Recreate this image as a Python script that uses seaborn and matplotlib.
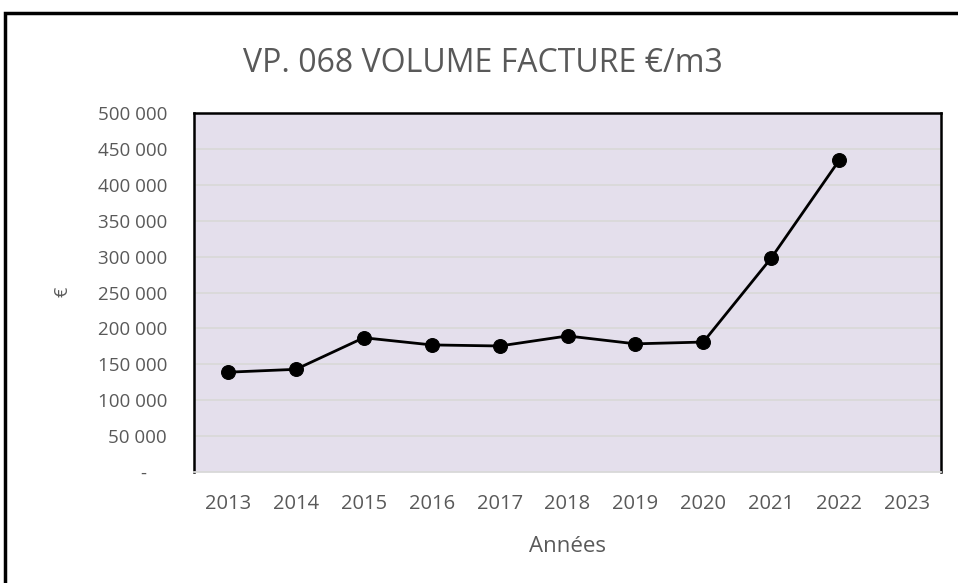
import numpy as np
import pandas as pd
import matplotlib
matplotlib.use("Agg")
import matplotlib.pyplot as plt
import seaborn as sns
from matplotlib.patches import Rectangle
from matplotlib.ticker import FuncFormatter, MultipleLocator

# Data
years = [2013, 2014, 2015, 2016, 2017, 2018, 2019, 2020, 2021, 2022]
all_years = list(range(2013, 2024))
volume_eur = [139000, 143000, 187000, 177000, 175500, 189500, 178500, 181000, 298000, 434000]

title = "VP. 068 VOLUME FACTURE €/m3"
xlabel = "Années"
ylabel = "€"

sns.set_style("white")
plt.rcParams["font.family"] = ["Open Sans", "DejaVu Sans"]

text_col = "#595959"
df = pd.DataFrame({"year": years, "value": volume_eur})

fig = plt.figure(figsize=(9.58, 5.83), dpi=100)
ax = fig.add_axes([194 / 958, 1 - 472 / 583, (941 - 194) / 958, (472 - 113) / 583])
ax.set_facecolor("#E4DFEC")

sns.lineplot(data=df, x="year", y="value", ax=ax, color="black", linewidth=2,
             marker="o", markersize=10, markeredgecolor="black", zorder=3)

ax.set_xlim(2012.5, 2023.5)
ax.set_ylim(0, 500000)
ax.set_xticks(all_years)
ax.set_xticklabels([str(y) for y in all_years])
ax.yaxis.set_major_locator(MultipleLocator(50000))
ax.yaxis.set_major_formatter(FuncFormatter(
    lambda v, p: "-    " if v == 0 else f"{int(v):,}".replace(",", " ")))
ax.grid(axis="y", color="#D9D9D9", linewidth=1.3)
ax.set_axisbelow(True)
ax.tick_params(axis="y", length=0, labelsize=13.5, colors=text_col, pad=19.5)
ax.tick_params(axis="x", length=0, labelsize=14.5, colors=text_col, pad=16)

for s in ["left", "top", "right"]:
    ax.spines[s].set_color("black")
    ax.spines[s].set_linewidth(1.8)
ax.spines["bottom"].set_color("#D9D9D9")
ax.spines["bottom"].set_linewidth(1.3)

ax.set_xlabel(xlabel, fontsize=16, color=text_col, labelpad=16)
ax.set_ylabel("")
fig.text(62 / 958, 1 - 292 / 583, ylabel, rotation=90, ha="center", va="center",
         fontsize=13, color=text_col)
fig.text(483 / 958, 1 - 63 / 583, title, ha="center", va="center",
         fontsize=23, color=text_col)

# outer chart frame
fig.patches.append(Rectangle((5 / 958, -0.05), 1.0, 1 - 13 / 583 + 0.05,
                             transform=fig.transFigure, fill=False,
                             edgecolor="black", linewidth=2.5))

fig.savefig("out.png", dpi=100)
